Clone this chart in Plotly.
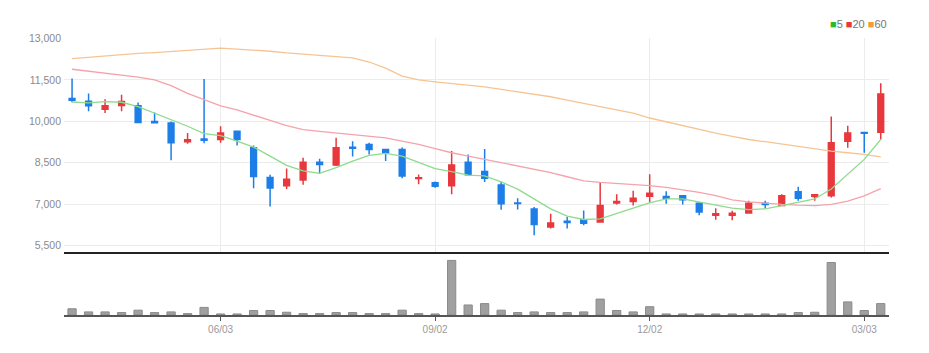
import plotly.graph_objects as go
from plotly.subplots import make_subplots
import pandas as pd

dates = pd.date_range("2024-04-01", periods=50, freq="7D")

opens  = [10830,10730,10440,10570,10560, 9990, 9940, 9260, 9360, 9340,
           9640, 9040, 7960, 7660, 7870, 8520, 8420, 9060, 9160, 8980,
           8980, 7930, 7770, 7660, 8520, 8180, 7690, 7040, 6820, 6170,
           6380, 6430, 6350, 7040, 7090, 7280, 7270, 7300, 7030, 6590,
           6590, 6680, 7030, 6950, 7450, 7270, 7300, 9280, 9590, 9600]
highs  = [11550,11010,10800,10960,10680,10320, 9990, 9580,11530, 9820,
           9660, 9120, 8060, 8290, 8680, 8640, 9400, 9280, 9220, 9000,
           9050, 8070, 7820, 8920, 8800, 9000, 7810, 7210, 6890, 6650,
           6530, 6770, 7790, 7360, 7480, 8080, 7460, 7330, 7070, 6850,
           6760, 7120, 7120, 7360, 7630, 7360,10170, 9840, 9590,11380]
lows   = [10690,10360,10300,10360, 9950, 9940, 8590, 9190, 9200, 9220,
           9120, 7570, 6910, 7550, 7700, 8120, 8380, 8720, 8800, 8560,
           7940, 7720, 7590, 7360, 8050, 7800, 6790, 6800, 5870, 6110,
           6110, 6230, 6340, 6980, 6950, 7070, 7010, 6980, 6590, 6430,
           6410, 6670, 6850, 6930, 7120, 7120, 7240, 9040, 8860, 9340]
closes = [10760,10560,10560,10715, 9960, 9950, 9220, 9330, 9310, 9580,
           9340, 8000, 7580, 7900, 8520, 8430, 9040, 9020, 8980, 8860,
           8020, 7950, 7650, 8420, 8060, 7940, 7010, 7020, 6260, 6310,
           6330, 6300, 6950, 7090, 7210, 7390, 7210, 7160, 6710, 6650,
           6670, 7030, 6980, 7300, 7210, 7340, 9220, 9580, 9570,10990]

ma5  = [10700,10670,10715,10690,10535,10300,10060, 9820, 9555, 9480,
         9280, 9065, 8740, 8400, 8200, 8110, 8322, 8560, 8764, 8836,
         8740, 8500, 8286, 8178, 8046, 8020, 7806, 7543, 7185, 6825,
         6563, 6440, 6466, 6670, 6850, 7040, 7185, 7185, 7066, 6945,
         6850, 6800, 6825, 6945, 7066, 7185, 7543, 8082, 8620, 9340]
ma20 = [11887,11820,11750,11672,11600,11500,11290,11015,10800,10560,
        10415,10236,10030, 9840, 9697, 9637, 9580, 9518, 9460, 9400,
         9280, 9160, 9010, 8860, 8740, 8620, 8500, 8380, 8260, 8143,
         7990, 7842, 7785, 7750, 7723, 7665, 7605, 7515, 7425, 7305,
         7150, 7080, 7030, 6990, 6960, 6945, 6990, 7110, 7300, 7560]
ma60 = [12270,12320,12370,12426,12460,12490,12534,12580,12630,12653,
        12616,12580,12540,12480,12430,12390,12350,12300,12150,11930,
        11640,11500,11430,11370,11310,11250,11160,11070,10980,10890,
        10770,10650,10550,10420,10300,10120, 9980, 9830, 9700, 9570,
         9450, 9340, 9260, 9170, 9100, 9010, 8920, 8860, 8800, 8710]

volume = [18, 9, 9, 7, 14, 7, 9, 4, 22, 3,
           3, 13, 13, 8, 4, 4, 7, 7, 4, 4,
          14, 4, 3, 158, 29, 33, 14, 7, 9, 7,
           7, 9, 46, 13, 9, 24, 3, 3, 3, 3,
           3, 3, 3, 3, 7, 8, 152, 38, 13, 33]

price_ticks = [5500, 7000, 8500, 10000, 11500, 13000]
price_labels = ["5,500", "7,000", "8,500", "10,000", "11,500", "13,000"]
date_ticks = ["2024-06-03", "2024-09-02", "2024-12-02", "2025-03-03"]
date_labels = ["06/03", "09/02", "12/02", "03/03"]
legend_items = [("5", "#2db92d"), ("20", "#e8383d"), ("60", "#f39a3a")]

UP = "#e8383d"
DOWN = "#1c7ee6"
FONT = "Liberation Sans, Arial, sans-serif"

fig = make_subplots(rows=2, cols=1, shared_xaxes=True,
                    row_heights=[0.78, 0.22], vertical_spacing=0.008)

fig.add_trace(go.Scatter(x=dates, y=ma60, mode="lines",
                         line=dict(color="#f6c493", width=1.3),
                         hoverinfo="skip", showlegend=False), row=1, col=1)
fig.add_trace(go.Scatter(x=dates, y=ma20, mode="lines",
                         line=dict(color="#f5a3aa", width=1.3),
                         hoverinfo="skip", showlegend=False), row=1, col=1)
fig.add_trace(go.Scatter(x=dates, y=ma5, mode="lines",
                         line=dict(color="#8ddb8d", width=1.3),
                         hoverinfo="skip", showlegend=False), row=1, col=1)

fig.add_trace(go.Candlestick(
    x=dates, open=opens, high=highs, low=lows, close=closes,
    increasing=dict(line=dict(color=UP, width=1.5), fillcolor=UP),
    decreasing=dict(line=dict(color=DOWN, width=1.5), fillcolor=DOWN),
    whiskerwidth=0, showlegend=False), row=1, col=1)

fig.add_trace(go.Bar(x=dates, y=volume, marker=dict(color="#a0a0a0",
                     line=dict(color="#8a8a8a", width=1)),
                     showlegend=False), row=2, col=1)

fig.update_layout(
    width=929, height=353,
    margin=dict(l=64, r=40, t=38, b=38),
    paper_bgcolor="white", plot_bgcolor="white",
    boxgap=0.5, bargap=0.5,
    font=dict(family=FONT, color="#888888", size=10),
)

xr = ["2024-03-28 14:00", "2025-03-13 12:00"]
fig.update_xaxes(range=xr, type="date", rangeslider_visible=False,
                 tickvals=date_ticks, ticktext=date_labels,
                 showgrid=True, gridcolor="#ececec", gridwidth=1,
                 zeroline=False)
fig.update_xaxes(showticklabels=False, showline=True, linecolor="#222222",
                 linewidth=2, ticks="", row=1, col=1)
fig.update_xaxes(showticklabels=True, showgrid=False, showline=True,
                 linecolor="#555555", linewidth=2, ticks="outside",
                 ticklen=4, tickcolor="#555555",
                 tickfont=dict(family=FONT, size=10, color="#9a9a9a"),
                 row=2, col=1)

fig.update_yaxes(range=[5250, 13020], tickvals=price_ticks, ticktext=price_labels,
                 showgrid=True, gridcolor="#ececec", zeroline=False,
                 showline=False, ticks="", ticklabelstandoff=2,
                 tickfont=dict(family=FONT, size=10.5, color="#8a8a8a"),
                 row=1, col=1)
fig.update_yaxes(range=[0, 175], showticklabels=False, showgrid=False,
                 zeroline=False, showline=False, row=2, col=1)

legend_html = "&nbsp;".join(
    f'<span style="color:{c}">■</span>{t}' for t, c in legend_items)
fig.add_annotation(xref="paper", yref="paper", x=1.0, y=1.05,
                   xanchor="right", yanchor="middle", showarrow=False,
                   text=legend_html,
                   font=dict(family=FONT, size=11, color="#777777"))

fig.write_html("out.html")
